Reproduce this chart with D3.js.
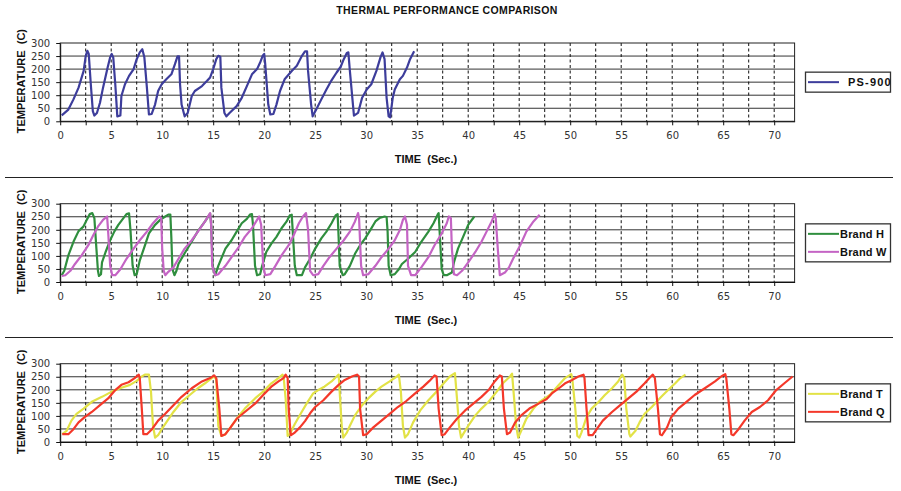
<!DOCTYPE html>
<html>
<head>
<meta charset="utf-8">
<script src="https://cdn.jsdelivr.net/npm/d3@7"></script>
<style>
  body { margin: 0; background: #fff; }
  .tick text { font-family: "DejaVu Sans", Verdana, sans-serif; font-size: 10px; fill: #333; }
  .tick line, .domain { stroke: #111; }
  .axis-title { font-family: Arial, "Liberation Sans", sans-serif; font-size: 11px; font-weight: bold; fill: #111; white-space: pre; }
  .legend-text { font-family: Arial, "Liberation Sans", sans-serif; font-size: 11px; font-weight: bold; fill: #111; }
</style>
</head>
<body>
<div class="chart"></div>
<script>
// tick values
const xLabels = d3.range(0, 71, 5);
const xMinor = d3.range(0, 72, 2.5);
const yTicks = [0, 50, 100, 150, 200, 250, 300];

// series, [time (sec), temperature (C)]
const ps900 = [[0.15,23],[0.8,45],[1.3,84],[1.8,129],[2.3,193],[2.5,250],[2.66,270],[2.8,258],[3.0,142],[3.2,39],[3.35,22],[3.6,32],[3.9,71],[4.2,129],[4.65,206],[4.9,245],[5.05,258],[5.2,245],[5.4,142],[5.6,19],[5.9,22],[6.0,97],[6.35,142],[6.75,174],[7.2,200],[7.5,238],[7.8,264],[8.05,276],[8.25,245],[8.5,129],[8.7,26],[8.97,28],[9.3,64],[9.6,116],[9.95,142],[10.4,161],[10.9,180],[11.25,219],[11.5,249],[11.65,249],[11.75,142],[11.9,64],[12.2,19],[12.5,32],[12.9,97],[13.2,116],[13.9,135],[14.4,155],[14.7,168],[15.0,200],[15.3,238],[15.5,251],[15.7,247],[15.8,129],[16.1,32],[16.3,19],[16.6,32],[17.3,58],[17.8,90],[18.3,135],[18.8,180],[19.3,200],[19.6,225],[19.85,251],[20.0,258],[20.1,219],[20.4,64],[20.6,26],[20.9,28],[21.2,64],[21.55,116],[22.0,161],[22.7,193],[23.2,213],[23.7,251],[24.0,268],[24.2,268],[24.3,193],[24.6,64],[24.75,19],[25.1,45],[25.6,84],[26.1,122],[26.6,157],[27.1,187],[27.5,209],[27.8,238],[28.1,262],[28.25,264],[28.4,193],[28.7,64],[28.8,22],[29.2,32],[29.6,90],[30.05,122],[30.5,142],[31.0,193],[31.4,245],[31.6,264],[31.8,238],[32.0,90],[32.2,19],[32.35,15],[32.6,90],[32.8,122],[33.3,161],[33.6,174],[34.0,206],[34.3,238],[34.7,268]];

const brandH = [[0.15,26],[0.4,43],[0.8,102],[1.3,154],[1.8,195],[2.27,212],[2.6,238],[2.9,260],[3.15,264],[3.35,245],[3.55,128],[3.7,43],[3.8,23],[4.0,30],[4.1,75],[4.45,115],[4.9,160],[5.3,193],[5.7,219],[6.2,245],[6.5,260],[6.75,263],[6.9,193],[7.1,62],[7.3,26],[7.5,30],[7.8,82],[8.25,134],[8.7,186],[9.3,219],[9.8,238],[10.3,251],[10.6,258],[10.8,258],[10.9,167],[11.0,49],[11.2,26],[11.4,43],[11.6,70],[12.2,110],[12.9,155],[13.5,195],[14.2,232],[14.7,262],[14.8,219],[14.95,62],[15.2,26],[15.5,62],[16.2,128],[16.8,160],[17.3,193],[17.8,225],[18.3,242],[18.6,258],[18.8,260],[18.9,219],[19.1,62],[19.3,26],[19.6,30],[19.8,62],[20.2,115],[20.7,147],[21.2,173],[21.7,206],[22.2,232],[22.5,255],[22.7,258],[22.8,193],[23.0,62],[23.2,26],[23.7,26],[24.0,56],[24.5,89],[25.0,128],[25.6,167],[26.1,193],[26.6,225],[27.0,255],[27.2,260],[27.3,167],[27.4,62],[27.7,26],[27.9,30],[28.4,62],[28.9,108],[29.4,141],[29.9,167],[30.4,199],[30.9,232],[31.3,245],[31.8,251],[32.0,249],[32.1,193],[32.2,62],[32.4,26],[32.8,30],[33.2,49],[33.5,69],[34.1,89],[34.8,115],[35.4,154],[36.1,193],[36.6,225],[37.0,258],[37.1,264],[37.2,193],[37.4,49],[37.6,26],[37.9,26],[38.4,36],[38.6,75],[39.0,128],[39.5,173],[40.0,219],[40.6,251]];

const brandW = [[0.15,23],[0.5,26],[1.0,43],[1.45,69],[2.1,102],[2.76,141],[3.25,180],[3.7,212],[4.2,238],[4.6,251],[4.7,193],[4.9,62],[5.1,26],[5.4,26],[5.9,49],[6.5,89],[7.2,128],[7.8,160],[8.5,193],[9.1,225],[9.7,251],[9.9,245],[10.0,128],[10.15,43],[10.3,26],[10.6,39],[11.1,56],[11.6,89],[12.2,128],[12.9,160],[13.5,193],[14.2,232],[14.7,264],[14.8,219],[14.9,62],[15.2,26],[15.5,30],[16.2,62],[16.8,95],[17.5,134],[18.1,173],[18.8,206],[19.3,238],[19.5,251],[19.7,219],[19.9,62],[20.1,26],[20.6,30],[21.1,62],[21.7,102],[22.4,141],[22.9,180],[23.4,225],[23.8,251],[24.1,264],[24.3,200],[24.5,43],[24.8,26],[25.3,30],[25.8,62],[26.4,95],[27.1,128],[27.8,160],[28.4,193],[28.9,232],[29.2,264],[29.3,245],[29.5,62],[29.7,26],[30.2,30],[30.9,62],[31.5,95],[32.2,128],[32.8,160],[33.3,199],[33.6,238],[33.8,251],[34.0,219],[34.1,62],[34.4,26],[34.8,26],[35.4,56],[36.1,95],[36.7,141],[37.4,186],[37.9,225],[38.1,251],[38.3,245],[38.4,128],[38.6,30],[38.9,26],[39.4,43],[40.0,75],[40.7,115],[41.3,154],[41.8,193],[42.3,232],[42.6,260],[42.7,245],[42.9,128],[43.1,26],[43.6,36],[44.0,56],[44.4,89],[45.1,141],[45.7,193],[46.4,232],[47.0,258]];

const brandT = [[0.2,30],[0.63,43],[1.1,82],[1.6,108],[2.3,128],[3.1,154],[4.1,173],[5.05,193],[6.0,208],[6.85,219],[7.5,234],[8.0,251],[8.3,258],[8.7,258],[8.9,193],[9.1,62],[9.3,17],[9.6,26],[9.95,49],[10.4,75],[11.1,115],[11.9,154],[12.7,180],[13.5,206],[14.2,225],[14.85,245],[15.1,251],[15.3,240],[15.5,62],[15.8,23],[16.2,30],[16.7,56],[17.3,89],[18.1,128],[19.1,167],[19.9,193],[20.7,225],[21.4,245],[21.8,258],[21.9,251],[22.1,167],[22.3,23],[22.5,30],[23.0,69],[23.6,110],[24.2,150],[24.8,186],[25.3,199],[25.9,212],[26.6,232],[27.1,251],[27.3,258],[27.4,193],[27.6,62],[27.75,17],[28.1,36],[28.4,62],[28.9,102],[29.6,141],[30.2,167],[30.9,193],[31.5,212],[32.3,232],[33.0,251],[33.2,258],[33.4,193],[33.6,62],[33.8,17],[34.1,30],[34.6,75],[35.3,121],[36.1,160],[36.9,193],[37.6,225],[38.2,251],[38.7,264],[38.9,167],[39.1,62],[39.3,17],[39.5,30],[40.0,62],[40.7,102],[41.3,128],[42.0,154],[42.8,193],[43.4,225],[44.1,251],[44.3,262],[44.5,167],[44.7,62],[44.9,17],[45.2,43],[45.7,89],[46.4,128],[47.0,154],[48.0,180],[48.9,219],[49.5,245],[50.1,260],[50.2,245],[50.5,128],[50.7,23],[50.9,17],[51.1,36],[51.6,95],[52.1,128],[52.8,154],[53.4,180],[54.1,206],[54.7,232],[55.1,258],[55.3,245],[55.5,128],[55.8,30],[55.9,21],[56.4,43],[56.8,75],[57.3,108],[58.0,134],[58.6,160],[59.1,180],[59.6,199],[60.3,225],[60.8,245],[61.3,258]];

const brandQ = [[0.2,30],[0.8,30],[1.3,49],[1.8,75],[2.4,95],[3.1,115],[3.9,141],[4.7,167],[5.4,199],[6.0,219],[6.7,229],[7.3,245],[7.7,258],[7.8,245],[8.0,128],[8.15,30],[8.5,30],[9.0,49],[9.6,82],[10.3,108],[11.1,141],[11.9,173],[12.9,206],[13.9,232],[14.7,245],[15.1,255],[15.3,245],[15.6,128],[15.8,23],[16.2,30],[16.7,56],[17.3,89],[18.1,115],[19.1,147],[19.9,180],[20.7,212],[21.4,232],[21.9,245],[22.1,258],[22.3,245],[22.4,128],[22.6,26],[23.0,36],[23.5,56],[24.0,80],[24.6,115],[25.0,134],[25.8,160],[26.6,193],[27.3,219],[27.9,238],[28.6,251],[29.1,258],[29.3,251],[29.4,128],[29.7,26],[30.05,30],[30.7,56],[31.5,82],[32.3,108],[33.1,134],[33.9,156],[34.8,186],[35.6,212],[36.2,234],[36.7,255],[36.9,251],[37.1,128],[37.4,26],[37.7,30],[38.2,56],[38.9,89],[39.7,121],[40.5,147],[41.3,173],[42.0,199],[42.6,232],[43.1,255],[43.3,251],[43.5,128],[43.8,30],[44.1,36],[44.6,75],[45.2,102],[46.0,128],[46.9,147],[47.7,165],[48.2,186],[48.9,206],[49.5,225],[50.2,238],[50.8,251],[51.3,258],[51.4,245],[51.6,128],[51.8,26],[52.2,26],[52.6,49],[53.2,82],[54.1,115],[54.9,141],[55.7,167],[56.5,193],[57.3,225],[57.9,251],[58.1,258],[58.3,245],[58.6,128],[58.8,30],[59.0,26],[59.5,56],[59.9,95],[60.6,128],[61.4,154],[62.2,180],[63.2,206],[64.2,232],[64.8,251],[65.2,260],[65.3,245],[65.6,128],[65.8,30],[66.0,26],[66.5,49],[67.1,82],[67.8,115],[68.6,134],[69.4,160],[70.2,199],[71.0,225],[71.8,251]];

const panels = [
  { top: 43, textX: 848, spacing: 1.2, series: [{ name: "PS-900", color: "#3d3d9b", values: ps900 }] },
  { top: 203.7, textX: 840, spacing: 0.2, series: [
      { name: "Brand H", color: "#2f8e3e", values: brandH },
      { name: "Brand W", color: "#c464c4", values: brandW }] },
  { top: 363.7, textX: 840, spacing: 0.2, series: [
      { name: "Brand T", color: "#e2e246", values: brandT },
      { name: "Brand Q", color: "#f4382a", values: brandQ }] }
];

const width = 901, height = 491;
const plotLeft = 60.2, plotRight = 794.6, plotH = 78.3;

const svg = d3.select(".chart")
  .append("svg")
  .attr("width", width)
  .attr("height", height);

svg.append("text")
  .attr("class", "axis-title")
  .attr("x", 447)
  .attr("y", 14)
  .attr("text-anchor", "middle")
  .style("font-size", "10.5px")
  .style("letter-spacing", "0.35px")
  .text("THERMAL PERFORMANCE COMPARISON");

// separators between the panels
[177.5, 337.5].forEach(yy => {
  svg.append("line")
    .attr("x1", 5).attr("x2", 893)
    .attr("y1", yy).attr("y2", yy)
    .style("stroke", "#222")
    .style("stroke-width", 1);
});

const x = d3.scaleLinear().domain([0, 72]).range([plotLeft, plotRight]);

panels.forEach(p => {
  const y = d3.scaleLinear().domain([0, 300]).range([p.top + plotH, p.top]);
  const g = svg.append("g");

  // horizontal grid
  g.selectAll(".hgrid")
    .data(yTicks.slice(1, -1))
    .join("line")
    .attr("x1", plotLeft).attr("x2", plotRight)
    .attr("y1", d => y(d)).attr("y2", d => y(d))
    .style("stroke", "#333")
    .style("stroke-width", 1);

  // vertical dashed grid
  g.selectAll(".vgrid")
    .data(xMinor.slice(1))
    .join("line")
    .attr("x1", d => x(d)).attr("x2", d => x(d))
    .attr("y1", p.top).attr("y2", p.top + plotH)
    .style("stroke", "#111")
    .style("stroke-dasharray", "3,2.5")
    .style("stroke-width", 1);

  // plot frame
  g.append("rect")
    .attr("x", plotLeft).attr("y", p.top)
    .attr("width", plotRight - plotLeft).attr("height", plotH)
    .style("fill", "none")
    .style("stroke", "#222")
    .style("stroke-width", 1);

  // axes
  const xAxis = d3.axisBottom(x)
    .tickValues(xMinor)
    .tickSize(4)
    .tickSizeOuter(0)
    .tickPadding(7)
    .tickFormat(d => (d % 5 === 0 ? d : ""));
  g.append("g")
    .attr("transform", "translate(0," + (p.top + plotH) + ")")
    .call(xAxis);

  const yAxis = d3.axisLeft(y)
    .tickValues(yTicks)
    .tickSize(4)
    .tickSizeOuter(0)
    .tickPadding(6);
  g.append("g")
    .attr("transform", "translate(" + plotLeft + ",0)")
    .call(yAxis);

  // axis titles
  g.append("text")
    .attr("class", "axis-title")
    .attr("x", 426)
    .attr("y", p.top + plotH + 41.5)
    .attr("text-anchor", "middle")
    .text("TIME  (Sec.)");

  g.append("text")
    .attr("class", "axis-title")
    .attr("transform", "translate(25," + (p.top + plotH / 2 - 1) + ") rotate(-90)")
    .attr("text-anchor", "middle")
    .text("TEMPERATURE  (C)");

  // series
  const line = d3.line()
    .x(d => x(d[0]))
    .y(d => y(d[1]));

  g.selectAll(".series")
    .data(p.series)
    .join("path")
    .attr("d", d => line(d.values))
    .style("fill", "none")
    .style("stroke", d => d.color)
    .style("stroke-width", 2.2)
    .style("stroke-linejoin", "round");

  // legend
  const rowH = 18;
  const boxH = p.series.length * rowH + 2;
  const boxTop = p.top + plotH / 2 - boxH / 2;
  const legend = g.append("g");
  legend.append("rect")
    .attr("x", 805.5).attr("y", boxTop)
    .attr("width", 85).attr("height", boxH)
    .style("fill", "#fff")
    .style("stroke", "#333")
    .style("stroke-width", 1.3);

  const rows = legend.selectAll(".row")
    .data(p.series)
    .join("g")
    .attr("transform", (d, i) => "translate(0," + (boxTop + 1 + rowH * (i + 0.5)) + ")");
  rows.append("line")
    .attr("x1", 808).attr("x2", 839)
    .style("stroke", d => d.color)
    .style("stroke-width", 2);
  rows.append("text")
    .attr("class", "legend-text")
    .attr("x", p.textX)
    .attr("dy", "0.35em")
    .style("letter-spacing", p.spacing + "px")
    .text(d => d.name);
});
</script>
</body>
</html>
